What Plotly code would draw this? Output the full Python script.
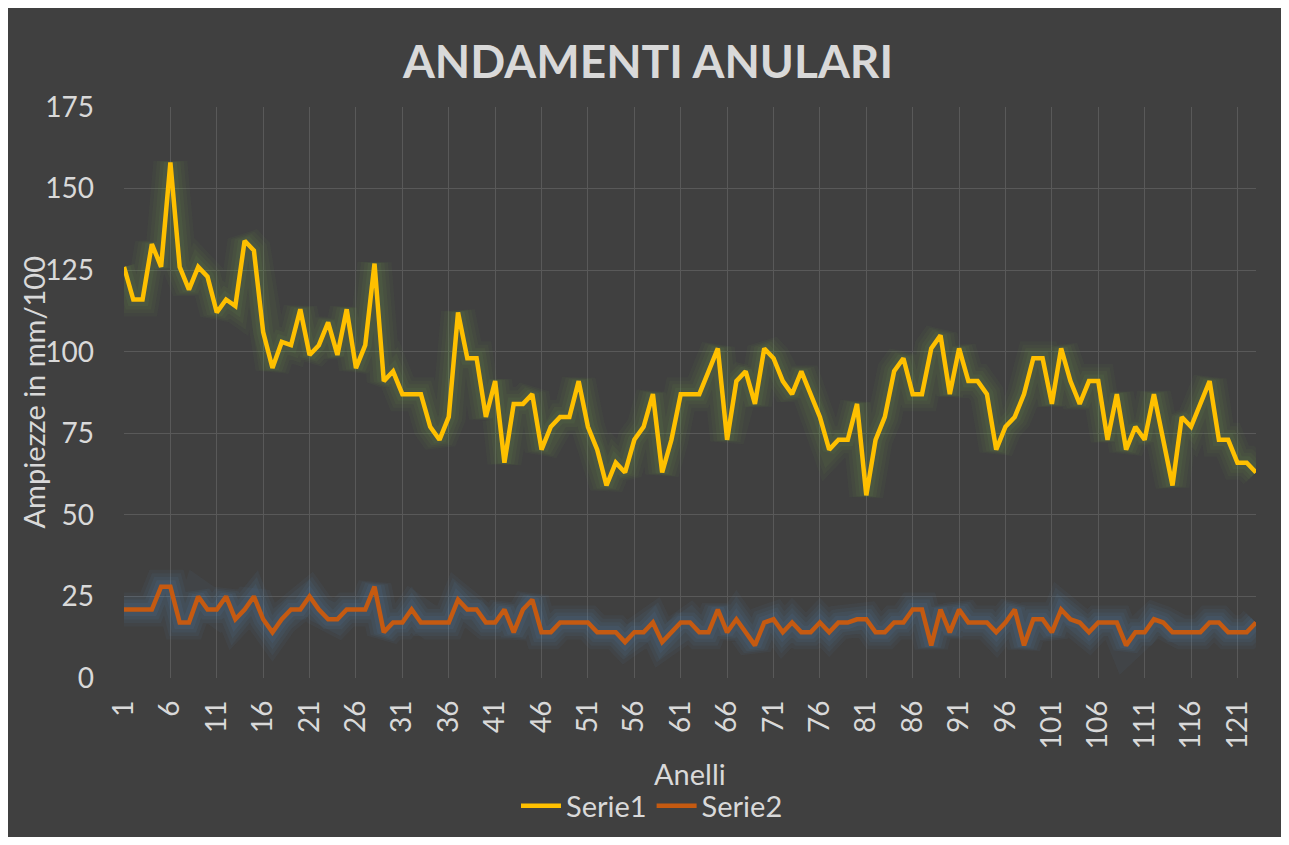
import plotly.graph_objects as go

anelli = list(range(1, 124))
tick_vals = list(range(1, 124, 5))
tick_text = [str(v) for v in tick_vals]
y_ticks = [0, 25, 50, 75, 100, 125, 150, 175]

serie1 = [126, 116, 116, 133, 126, 158, 126, 119, 126, 123,
          112, 116, 114, 134, 131, 106, 95, 103, 102, 113,
          99, 102, 109, 99, 113, 95, 102, 127, 91, 94,
          87, 87, 87, 77, 73, 80, 112, 98, 98, 80,
          91, 66, 84, 84, 87, 70, 77, 80, 80, 91,
          77, 70, 59, 66, 63, 73, 77, 87, 63, 73,
          87, 87, 87, 94, 101, 73, 91, 94, 84, 101,
          98, 91, 87, 94, 87, 80, 70, 73, 73, 84,
          56, 73, 80, 94, 98, 87, 87, 101, 105, 87,
          101, 91, 91, 87, 70, 77, 80, 87, 98, 98,
          84, 101, 91, 84, 91, 91, 73, 87, 70, 77,
          73, 87, 73, 59, 80, 77, 84, 91, 73, 73,
          66, 66, 63]

serie2 = [21, 21, 21, 21, 28, 28, 17, 17, 25, 21,
          21, 25, 18, 21, 25, 18, 14, 18, 21, 21,
          25, 21, 18, 18, 21, 21, 21, 28, 14, 17,
          17, 21, 17, 17, 17, 17, 24, 21, 21, 17,
          17, 21, 14, 21, 24, 14, 14, 17, 17, 17,
          17, 14, 14, 14, 11, 14, 14, 17, 11, 14,
          17, 17, 14, 14, 21, 14, 18, 14, 10, 17,
          18, 14, 17, 14, 14, 17, 14, 17, 17, 18,
          18, 14, 14, 17, 17, 21, 21, 10, 21, 14,
          21, 17, 17, 17, 14, 17, 21, 10, 18, 18,
          14, 21, 18, 17, 14, 17, 17, 17, 10, 14,
          14, 18, 17, 14, 14, 14, 14, 17, 17, 14,
          14, 14, 17]

BG = "#404040"
TXT = "#d9d9d9"
GRID = "#595959"
FONT = "Lato"

W, H = 1273, 829
ML, MR, MT, MB = 116, 25, 99, 159
PW = W - ML - MR
PH = H - MT - MB

fig = go.Figure()

# glow layers
glows = [(serie1, "rgba(112,173,71,{a})"), (serie2, "rgba(91,155,213,{a})")]
for data, col in glows:
    for w, a in [(34, 0.05), (27, 0.06), (20, 0.07), (13, 0.08)]:
        fig.add_trace(go.Scatter(x=anelli, y=data, mode="lines",
                                 line=dict(color=col.format(a=a), width=w),
                                 showlegend=False, hoverinfo="skip"))

fig.add_trace(go.Scatter(x=anelli, y=serie1, mode="lines", name="Serie1",
                         line=dict(color="#FFC000", width=4.5)))
fig.add_trace(go.Scatter(x=anelli, y=serie2, mode="lines", name="Serie2",
                         line=dict(color="#C55A11", width=4.5)))

fig.update_layout(
    width=W, height=H,
    paper_bgcolor=BG, plot_bgcolor=BG,
    margin=dict(l=ML, r=MR, t=MT, b=MB),
    font=dict(family=FONT, color=TXT, size=28),
    title=dict(text="<b>ANDAMENTI ANULARI</b>", x=(648 - 8) / W, xref="container",
               y=1 - (62 - 8) / H, yref="container", xanchor="center", yanchor="middle",
               font=dict(family=FONT, size=46, color=TXT)),
    showlegend=True,
    legend=dict(orientation="h", xref="container", x=(652 - 8) / W, xanchor="center",
                yref="container", y=1 - (806 - 8) / H, yanchor="middle",
                font=dict(size=29, color=TXT), bgcolor="rgba(0,0,0,0)",
                itemwidth=40),
    xaxis=dict(range=[1, 123], tickmode="array", tickvals=tick_vals, ticktext=tick_text,
               tickangle=-90, showgrid=True, gridcolor=GRID, gridwidth=1,
               zeroline=False, showline=False, ticks="",
               tickfont=dict(size=28, color=TXT), ticklabelstandoff=16),
    yaxis=dict(range=[0, 175], tickmode="array", tickvals=y_ticks,
               showgrid=True, gridcolor=GRID, gridwidth=1,
               zeroline=False, showline=False, ticks="",
               tickfont=dict(size=28, color=TXT), ticklabelstandoff=29),
    annotations=[
        dict(text="Ampiezze in mm/100", xref="paper", yref="paper",
             x=(33 - 124) / PW, y=0.5, xanchor="center", yanchor="middle",
             textangle=-90, showarrow=False, font=dict(size=29, color=TXT)),
        dict(text="Anelli", xref="paper", yref="paper",
             x=0.5, y=-(773 - 678) / PH, xanchor="center", yanchor="middle",
             showarrow=False, font=dict(size=29, color=TXT)),
    ],
)

fig.write_html("out.html")
